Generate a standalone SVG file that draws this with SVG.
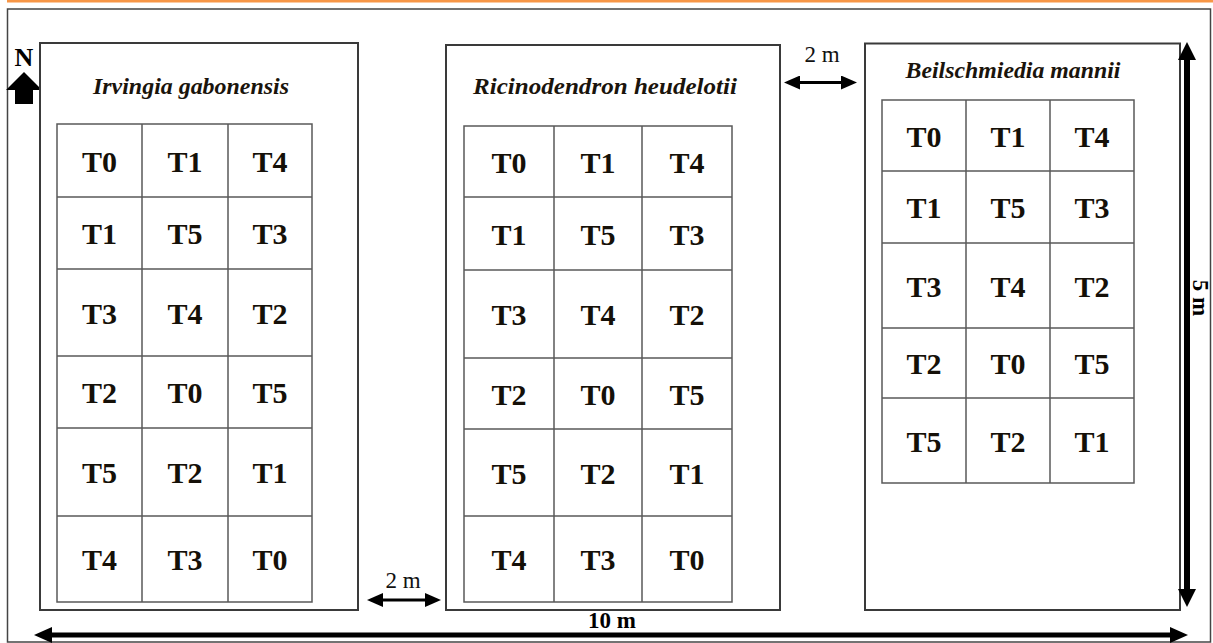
<svg xmlns="http://www.w3.org/2000/svg" width="1213" height="643" viewBox="0 0 1213 643">
<style>
.box{fill:#fff;stroke:#3a3a3a;stroke-width:2}
.grid{fill:none;stroke:#5a5a5a;stroke-width:1.5}
.cell{font-family:"Liberation Serif",serif;font-weight:bold;font-size:30px;fill:#151008;text-anchor:middle}
.title{font-family:"Liberation Serif",serif;font-weight:bold;font-style:italic;font-size:23px;fill:#1a140c;text-anchor:middle}
.dim{font-family:"Liberation Serif",serif;font-size:23px;fill:#111;text-anchor:middle}
.dimb{font-family:"Liberation Serif",serif;font-weight:bold;font-size:23px;fill:#000;text-anchor:middle}
.ah{fill:#000}
</style>
<defs>
<marker id="sh" markerUnits="userSpaceOnUse" markerWidth="16" markerHeight="14" refX="2" refY="7" orient="auto-start-reverse" viewBox="0 0 16 14">
<path d="M0,0 L16,7 L0,14 z" fill="#000"/>
</marker>
</defs>
<rect x="0" y="0" width="1213" height="643" fill="#fff"/>
<line x1="7" y1="1.3" x2="1213" y2="1.3" stroke="#f79646" stroke-width="2.6"/>
<rect x="7.5" y="9" width="1203" height="633" fill="none" stroke="#444" stroke-width="1.5"/>

<g id="north">
<text x="24" y="66" font-family="'Liberation Serif',serif" font-weight="bold" font-size="26" text-anchor="middle" fill="#000">N</text>
<polygon points="24,72 42,90 33,90 33,104 15,104 15,90 6,90" fill="#000"/>
</g>

<g id="plot-irvingia">
<rect class="box" x="40" y="43" width="318" height="567"/>
<text class="title" x="191" y="94" textLength="196" lengthAdjust="spacingAndGlyphs">Irvingia gabonensis</text>
<path class="grid" d="M57,124 H312 V602 H57 Z M142,124 V602 M228,124 V602 M57,197 H312 M57,269 H312 M57,356 H312 M57,428 H312 M57,516 H312"/>
<g class="cell">
<text x="99.5" y="172">T0</text><text x="185" y="172">T1</text><text x="270" y="172">T4</text>
<text x="99.5" y="244">T1</text><text x="185" y="244">T5</text><text x="270" y="244">T3</text>
<text x="99.5" y="323.5">T3</text><text x="185" y="323.5">T4</text><text x="270" y="323.5">T2</text>
<text x="99.5" y="403">T2</text><text x="185" y="403">T0</text><text x="270" y="403">T5</text>
<text x="99.5" y="483">T5</text><text x="185" y="483">T2</text><text x="270" y="483">T1</text>
<text x="99.5" y="570">T4</text><text x="185" y="570">T3</text><text x="270" y="570">T0</text>
</g>
</g>

<g id="plot-ricinodendron">
<rect class="box" x="446" y="45" width="334" height="565"/>
<text class="title" x="605" y="94" textLength="264" lengthAdjust="spacingAndGlyphs">Ricinodendron heudelotii</text>
<path class="grid" d="M464,126 H732 V602 H464 Z M554,126 V602 M642,126 V602 M464,197 H732 M464,270 H732 M464,358 H732 M464,429 H732 M464,516 H732"/>
<g class="cell">
<text x="509" y="172.5">T0</text><text x="598" y="172.5">T1</text><text x="687" y="172.5">T4</text>
<text x="509" y="244.5">T1</text><text x="598" y="244.5">T5</text><text x="687" y="244.5">T3</text>
<text x="509" y="325">T3</text><text x="598" y="325">T4</text><text x="687" y="325">T2</text>
<text x="509" y="404.5">T2</text><text x="598" y="404.5">T0</text><text x="687" y="404.5">T5</text>
<text x="509" y="483.5">T5</text><text x="598" y="483.5">T2</text><text x="687" y="483.5">T1</text>
<text x="509" y="570">T4</text><text x="598" y="570">T3</text><text x="687" y="570">T0</text>
</g>
</g>

<g id="plot-beilschmiedia">
<rect class="box" x="865" y="43.5" width="315" height="566.5"/>
<text class="title" x="1013" y="78" textLength="215" lengthAdjust="spacingAndGlyphs">Beilschmiedia mannii</text>
<path class="grid" d="M882,100 H1134 V483 H882 Z M966,100 V483 M1050,100 V483 M882,171 H1134 M882,243 H1134 M882,328 H1134 M882,398 H1134"/>
<g class="cell">
<text x="924" y="146.5">T0</text><text x="1008" y="146.5">T1</text><text x="1092" y="146.5">T4</text>
<text x="924" y="218">T1</text><text x="1008" y="218">T5</text><text x="1092" y="218">T3</text>
<text x="924" y="296.5">T3</text><text x="1008" y="296.5">T4</text><text x="1092" y="296.5">T2</text>
<text x="924" y="374">T2</text><text x="1008" y="374">T0</text><text x="1092" y="374">T5</text>
<text x="924" y="451.5">T5</text><text x="1008" y="451.5">T2</text><text x="1092" y="451.5">T1</text>
</g>
</g>

<g id="connectors">
<line x1="381" y1="600" x2="427" y2="600" stroke="#000" stroke-width="3" marker-start="url(#sh)" marker-end="url(#sh)"/>
<text class="dim" x="403" y="588">2 m</text>
<line x1="798" y1="82.5" x2="843" y2="82.5" stroke="#000" stroke-width="3" marker-start="url(#sh)" marker-end="url(#sh)"/>
<text class="dim" x="822" y="62">2 m</text>
<rect x="51" y="632.5" width="1120" height="5" fill="#000"/>
<polygon class="ah" points="34,635 52,627 52,643"/>
<polygon class="ah" points="1188,635 1170,627 1170,643"/>
<text class="dimb" x="612" y="628">10 m</text>
<rect x="1184" y="59" width="6" height="531" fill="#000"/>
<polygon class="ah" points="1187,42 1178,60 1196,60"/>
<polygon class="ah" points="1187,607 1178,589 1196,589"/>
<text class="dimb" transform="translate(1193,298) rotate(90)" x="0" y="0">5 m</text>
</g>
</svg>
